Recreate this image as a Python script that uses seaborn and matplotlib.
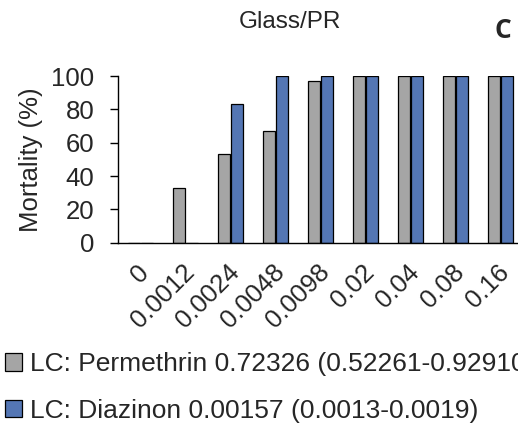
import pandas as pd
import seaborn as sns
import matplotlib.pyplot as plt
import matplotlib.transforms as mtransforms

# values
doses = ['0', '0.0012', '0.0024', '0.0048', '0.0098', '0.02', '0.04', '0.08', '0.16']
permethrin = [0, 33, 53, 67, 97, 100, 100, 100, 100]
diazinon = [0, 0, 83, 100, 100, 100, 100, 100, 100]
lab_perm = 'LC: Permethrin 0.72326 (0.52261-0.92910)'
lab_diaz = 'LC: Diazinon 0.00157 (0.0013-0.0019)'

df = pd.DataFrame({
    'Dose': doses * 2,
    'Mortality': permethrin + diazinon,
    'Insecticide': [lab_perm] * len(doses) + [lab_diaz] * len(doses),
})

sns.set_style('white')
plt.rcParams['font.family'] = ['Liberation Sans', 'DejaVu Sans']

fig = plt.figure(figsize=(5.18, 4.24), dpi=100)
ax = fig.add_axes([118 / 518, 1 - 242.7 / 424, 405 / 518, 166.7 / 424])

sns.barplot(data=df, x='Dose', y='Mortality', hue='Insecticide',
            palette=['#A5A5A5', '#4472C4'], width=0.58, gap=0.15,
            edgecolor='black', linewidth=0.9, ax=ax)

ax.set_ylim(0, 100)
ax.set_xlim(-0.5, 8.5)
ax.set_yticks(range(0, 101, 20))
ax.set_xlabel('')
ax.set_ylabel('Mortality (%)', fontsize=18.5)
ax.yaxis.set_label_coords(-0.186, 0.5)
sns.despine(ax=ax, top=True, right=True)
for side in ['left', 'bottom']:
    ax.spines[side].set_color('black')
    ax.spines[side].set_linewidth(1)
    ax.spines[side].set_zorder(5)

ax.tick_params(axis='y', left=True, length=6, width=1, color='black',
               labelsize=18.5, pad=11)
ax.tick_params(axis='x', bottom=False, labelsize=18.5, pad=15)
shift = mtransforms.ScaledTranslation(5 / 100, 0, fig.dpi_scale_trans)
for t in ax.get_xticklabels():
    t.set_rotation(45)
    t.set_ha('right')
    t.set_va('center')
    t.set_rotation_mode('anchor')
    t.set_transform(t.get_transform() + shift)

fig.text(290 / 518, 1 - 22 / 424, 'Glass/PR', fontsize=17.5, ha='center', va='center')
fig.text(495 / 518, 1 - 31 / 424, 'C', fontsize=19, fontweight='bold',
         family=['Open Sans', 'DejaVu Sans'], ha='left', va='center')

# legend text runs past the right edge, as in the reference
sns.move_legend(ax, 'upper left', bbox_to_anchor=(0, 1 - 347 / 424),
                bbox_transform=fig.transFigure, frameon=False, title=None,
                fontsize=19, handlelength=0.65, handleheight=0.65,
                handletextpad=0.3, labelspacing=0.85, borderaxespad=0,
                borderpad=0.2)

plt.savefig('out.png', dpi=100)
